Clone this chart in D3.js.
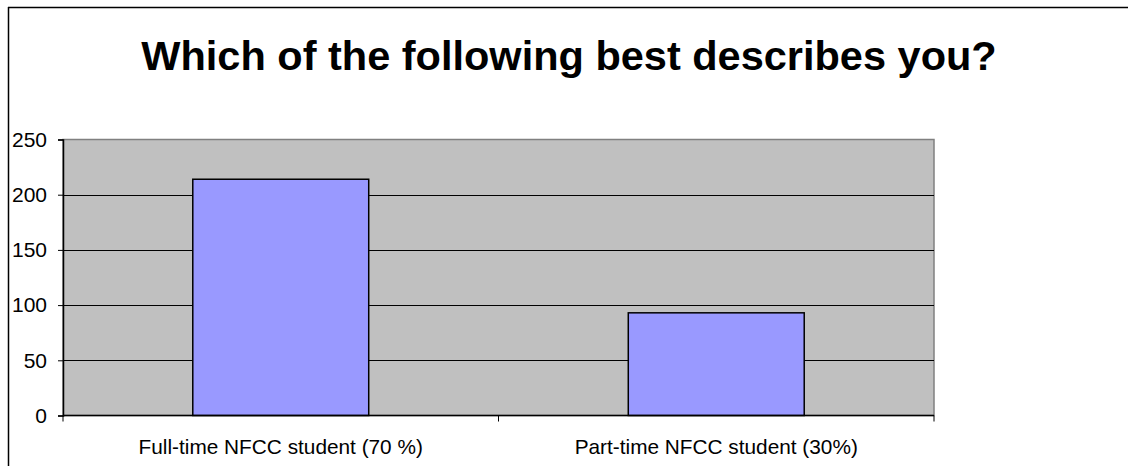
<!DOCTYPE html>
<html>
<head>
<meta charset="utf-8">
<script src="https://cdn.jsdelivr.net/npm/d3@7"></script>
<style>
  html, body { margin: 0; padding: 0; background: #fff; }
  svg { display: block; font-family: "Liberation Sans", Arial, sans-serif; }
</style>
</head>
<body>
<svg id="chart" width="1128" height="466"></svg>
<script>
const title = "Which of the following best describes you?";
const categories = ["Full-time NFCC student (70 %)", "Part-time NFCC student (30%)"];
const values = [214, 93];
const yTicks = [0, 50, 100, 150, 200, 250];

const svg = d3.select("#chart");
const W = 1128, H = 466;
const plot = { left: 63, right: 934, top: 139.5, bottom: 415.5 };

// outer chart border (top & left visible)
svg.append("line").attr("x1", 8).attr("x2", W).attr("y1", 7.5).attr("y2", 7.5)
  .attr("stroke", "#000").attr("stroke-width", 1.5);
svg.append("line").attr("x1", 8.5).attr("x2", 8.5).attr("y1", 7).attr("y2", H)
  .attr("stroke", "#000").attr("stroke-width", 1.5);

// title
svg.append("text").attr("x", 569).attr("y", 69.5)
  .attr("text-anchor", "middle").attr("font-weight", "bold")
  .attr("font-size", 41.5).attr("fill", "#000").text(title);

const x = d3.scaleBand().domain(categories)
  .range([plot.left, plot.right]).paddingInner(0.596).paddingOuter(0.298);
const y = d3.scaleLinear().domain([0, 250]).range([plot.bottom, plot.top]);

// plot background
svg.append("rect").attr("x", plot.left).attr("y", plot.top)
  .attr("width", plot.right - plot.left).attr("height", plot.bottom - plot.top)
  .attr("fill", "#C0C0C0").attr("stroke", "#808080").attr("stroke-width", 1.5);

// gridlines
svg.append("g").selectAll("line").data(yTicks.filter(t => t > 0 && t < 250)).join("line")
  .attr("x1", plot.left).attr("x2", plot.right)
  .attr("y1", d => Math.round(y(d)) + 0.5).attr("y2", d => Math.round(y(d)) + 0.5)
  .attr("stroke", "#000").attr("stroke-width", 1);

// bars
svg.append("g").selectAll("rect").data(values).join("rect")
  .attr("x", (d, i) => x(categories[i]))
  .attr("y", d => y(d))
  .attr("width", x.bandwidth())
  .attr("height", d => y(0) - y(d))
  .attr("fill", "#9999FF").attr("stroke", "#000").attr("stroke-width", 1.5);

// y axis
const yAxis = d3.axisLeft(y).tickValues(yTicks).tickSize(5).tickPadding(11);
const gy = svg.append("g").attr("transform", `translate(${plot.left},0)`).call(yAxis);
gy.select(".domain").attr("stroke", "#000").attr("stroke-width", 1.5);
gy.selectAll(".tick line").attr("stroke", "#000");
gy.selectAll(".tick text").attr("font-size", 21).attr("fill", "#000")
  .attr("font-family", "Liberation Sans, Arial, sans-serif");

// x axis
const xEdges = d3.scaleLinear().domain([0, categories.length]).range([plot.left, plot.right]);
const gx = svg.append("g").attr("transform", `translate(0,${plot.bottom})`);
gx.append("line").attr("x1", plot.left).attr("x2", plot.right).attr("y1", 0).attr("y2", 0)
  .attr("stroke", "#000").attr("stroke-width", 1.5);
gx.selectAll("line.tk").data(d3.range(categories.length + 1)).join("line").attr("class", "tk")
  .attr("x1", d => xEdges(d)).attr("x2", d => xEdges(d)).attr("y1", 0).attr("y2", 6)
  .attr("stroke", "#000");
gx.selectAll("text").data(categories).join("text")
  .attr("x", d => x(d) + x.bandwidth() / 2).attr("y", 38.5)
  .attr("text-anchor", "middle").attr("font-size", 20.8).attr("fill", "#000").text(d => d);
</script>
</body>
</html>
